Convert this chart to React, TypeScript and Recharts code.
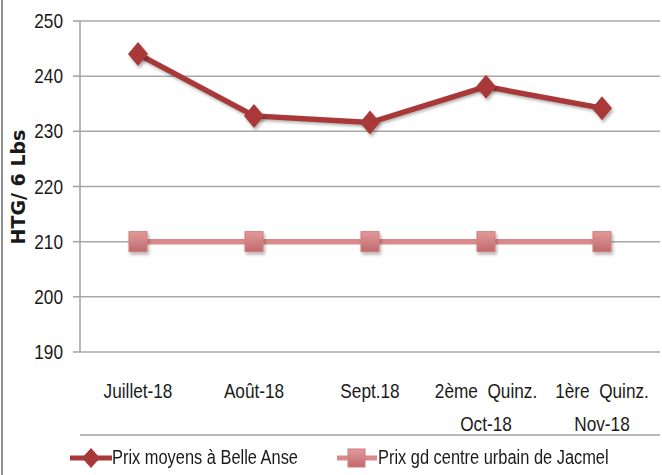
import React from 'react';
import { LineChart, Line, XAxis, YAxis, CartesianGrid, Legend } from 'recharts';

const categories: string[][] = [
  ['Juillet-18'],
  ['Août-18'],
  ['Sept.18'],
  ['2ème  Quinz.', 'Oct-18'],
  ['1ère  Quinz.', 'Nov-18'],
];
const belleAnse: number[] = [244, 232.8, 231.6, 238.1, 234.2];
const jacmel: number[] = [210, 210, 210, 210, 210];
const yTicks: number[] = [190, 200, 210, 220, 230, 240, 250];
const boundaryTicks: number[] = [0, 1, 2, 3, 4, 5];
const centerTicks: number[] = [0.5, 1.5, 2.5, 3.5, 4.5];
const seriesNames = ['Prix moyens à Belle Anse', 'Prix gd centre urbain de Jacmel'];
const yAxisTitle = 'HTG/ 6 Lbs';

const data = categories.map((c, i) => ({
  pos: i + 0.5,
  belle: belleAnse[i],
  jacmel: jacmel[i],
}));

const FONT = '"Liberation Sans", Arial, sans-serif';
const SX = 0.82;
const BELLE = '#A93838';
const JACMEL = '#DA8A8B';

const Diamond = (props: any) => {
  const { cx, cy } = props;
  if (cx == null || cy == null) return null;
  return (
    <polygon
      points={`${cx},${cy - 12} ${cx + 10},${cy} ${cx},${cy + 12} ${cx - 10},${cy}`}
      fill={BELLE}
      filter="url(#shadow)"
    />
  );
};

const Square = (props: any) => {
  const { cx, cy } = props;
  if (cx == null || cy == null) return null;
  return (
    <rect x={cx - 9} y={cy - 10} width={18} height={20} fill="url(#sqgrad)" stroke="#D07A7C" strokeWidth={1} filter="url(#shadow)" />
  );
};

const NarrowText = ({ x, y, anchor, children }: any) => (
  <text
    transform={`translate(${x},${y}) scale(${SX},1)`}
    x={0}
    y={0}
    textAnchor={anchor}
    fontFamily={FONT}
    fontSize={21}
    fill="#1a1a1a"
    style={{ whiteSpace: 'pre' }}
  >
    {children}
  </text>
);

const CatTick = (props: any) => {
  const { x, y, payload } = props;
  const idx = Math.round(payload.value - 0.5);
  const lines = categories[idx] || [];
  return (
    <g>
      {lines.map((l, i) => (
        <NarrowText key={i} x={x} y={y + 38 + i * 33} anchor="middle">
          {l}
        </NarrowText>
      ))}
    </g>
  );
};

const YTick = (props: any) => {
  const { x, y, payload } = props;
  return (
    <NarrowText x={x} y={y + 7} anchor="end">
      {payload.value}
    </NarrowText>
  );
};

const spanStyle: React.CSSProperties = {
  display: 'inline-block',
  whiteSpace: 'pre',
  transform: `scaleX(${SX})`,
  transformOrigin: 'left center',
};

const LegendContent = () => (
  <div style={{ position: 'relative', height: 30, fontFamily: FONT, fontSize: 20, color: '#1a1a1a' }}>
    <svg width={42} height={26} style={{ position: 'absolute', left: 70, top: 2 }}>
      <line x1={0} y1={13} x2={42} y2={13} stroke={BELLE} strokeWidth={5} />
      <polygon points="21,3 30,13 21,23 12,13" fill={BELLE} />
    </svg>
    <span style={{ ...spanStyle, position: 'absolute', left: 112, top: 3 }}>{seriesNames[0]}</span>
    <svg width={40} height={26} style={{ position: 'absolute', left: 337, top: 2 }}>
      <line x1={0} y1={13} x2={40} y2={13} stroke={JACMEL} strokeWidth={5} />
      <rect x={11} y={4} width={17} height={18} fill="url(#sqgrad2)" stroke="#D07A7C" />
      <defs>
        <linearGradient id="sqgrad2" x1="0" y1="0" x2="0" y2="1">
          <stop offset="0%" stopColor="#E39A9B" />
          <stop offset="100%" stopColor="#BF6A6C" />
        </linearGradient>
      </defs>
    </svg>
    <span style={{ ...spanStyle, position: 'absolute', left: 378, top: 3 }}>{seriesNames[1]}</span>
  </div>
);

export default function App() {
  return (
    <div style={{ position: 'absolute', left: 0, top: 0, width: 662, height: 475, background: '#fff' }}>
      <div style={{ position: 'absolute', left: 1, top: 0, width: 2, height: 475, background: '#8e8e8e' }} />
      <svg style={{ position: 'absolute', left: 0, top: 0 }} width={40} height={475}>
        <text
          transform="translate(25,187) rotate(-90)"
          textAnchor="middle"
          fontFamily='"DejaVu Sans", sans-serif'
          fontWeight="bold"
          fontSize={19}
          fill="#1a1a1a"
        >
          {yAxisTitle}
        </text>
      </svg>
      <LineChart
        width={662}
        height={475}
        data={data}
        margin={{ top: 21, right: 2, bottom: 2, left: 0 }}
        style={{ position: 'absolute', left: 0, top: 0 }}
      >
        <defs>
          <filter id="shadow" x="-50%" y="-50%" width="200%" height="200%">
            <feDropShadow dx="1.5" dy="2.5" stdDeviation="1.8" floodColor="#000" floodOpacity="0.3" />
          </filter>
          <linearGradient id="sqgrad" x1="0" y1="0" x2="0" y2="1">
            <stop offset="0%" stopColor="#E39A9B" />
            <stop offset="100%" stopColor="#BF6A6C" />
          </linearGradient>
        </defs>
        <CartesianGrid vertical={false} stroke="#a8a8a8" strokeWidth={1.5} />
        <XAxis
          xAxisId="marks"
          dataKey="pos"
          type="number"
          domain={[0, 5]}
          ticks={boundaryTicks}
          tick={false}
          tickSize={8}
          height={8}
          stroke="#a0a0a0"
          strokeWidth={1.5}
          interval={0}
        />
        <XAxis
          xAxisId="labels"
          dataKey="pos"
          type="number"
          domain={[0, 5]}
          ticks={centerTicks}
          tick={<CatTick />}
          tickLine={false}
          axisLine={false}
          height={83}
          interval={0}
        />
        <YAxis
          domain={[190, 250]}
          ticks={yTicks}
          interval={0}
          width={80}
          tickSize={7}
          tickMargin={10}
          stroke="#a0a0a0"
          strokeWidth={1.5}
          tick={<YTick />}
        />
        <Legend verticalAlign="bottom" height={30} content={<LegendContent />} wrapperStyle={{ left: 0, width: 662 }} />
        <Line
          xAxisId="marks"
          dataKey="jacmel"
          name={seriesNames[1]}
          stroke={JACMEL}
          strokeWidth={5.5}
          dot={<Square />}
          isAnimationActive={false}
        />
        <Line
          xAxisId="marks"
          dataKey="belle"
          name={seriesNames[0]}
          stroke={BELLE}
          strokeWidth={5.5}
          dot={<Diamond />}
          isAnimationActive={false}
          style={{ filter: 'drop-shadow(1px 2px 1.5px rgba(0,0,0,0.3))' }}
        />
      </LineChart>
    </div>
  );
}
